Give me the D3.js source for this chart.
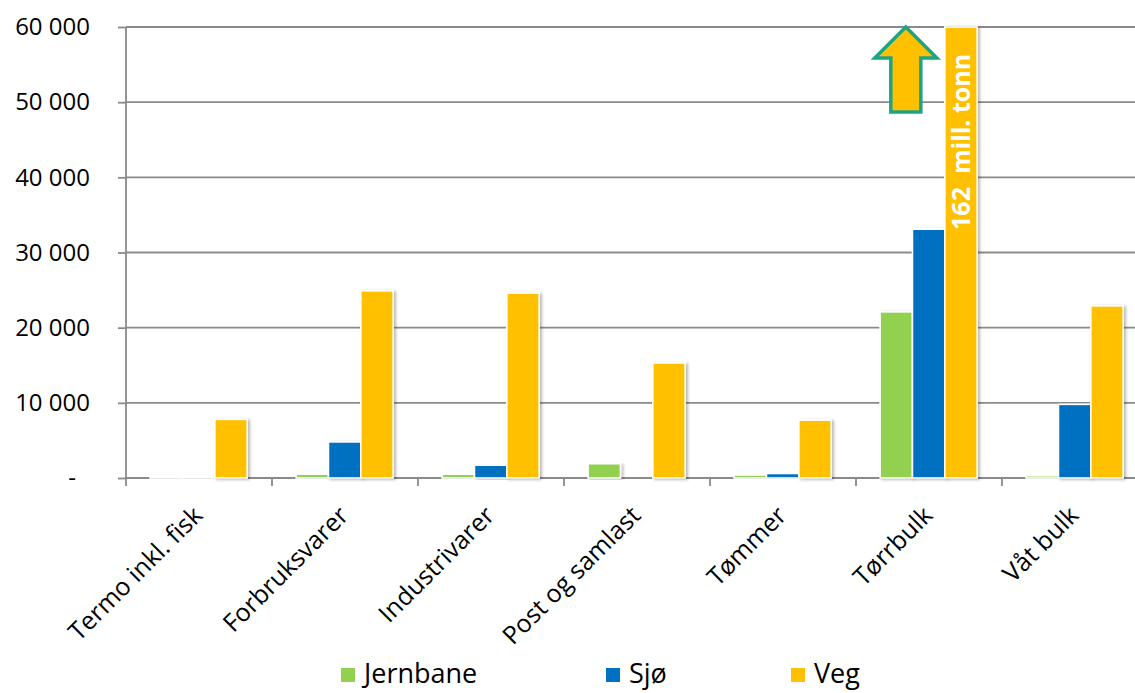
<!DOCTYPE html>
<html>
<head>
<meta charset="utf-8">
<script src="https://cdn.jsdelivr.net/npm/d3@7/dist/d3.min.js"></script>
<style>
  html, body { margin: 0; padding: 0; background: #fff; }
  svg { display: block; font-family: "Open Sans", "Noto Sans", sans-serif; }
</style>
</head>
<body>
<svg id="chart" width="1135" height="693"></svg>
<script>
// Godsmengder per varegruppe og transportmiddel (1000 tonn)
const categories = ["Termo inkl. fisk", "Forbruksvarer", "Industrivarer", "Post og samlast", "Tømmer", "Tørrbulk", "Våt bulk"];
const seriesNames = ["Jernbane", "Sjø", "Veg"];
const jernbane = [60, 500, 500, 1900, 400, 22100, 300];
const sjo      = [120, 4800, 1700, 0, 600, 33100, 9800];
const veg      = [7800, 24900, 24600, 15300, 7700, 162000, 22900];
const yTicks = [0, 10000, 20000, 30000, 40000, 50000, 60000];
const colors = ["#92d050", "#0070c0", "#ffc000"];
const bigLabel = "162  mill. tonn";

const values = [jernbane, sjo, veg];

const svg = d3.select("#chart");
const plotLeft = 126, plotTop = 27, plotBottom = 478, step = 146;

const x = d3.scaleBand().domain(categories).range([plotLeft, plotLeft + step * categories.length]).padding(0);
const xInner = d3.scaleBand().domain(seriesNames)
  .range([x.bandwidth() * 0.165, x.bandwidth() * 0.83]).padding(0);
const y = d3.scaleLinear().domain([0, 60000]).range([plotBottom, plotTop]).clamp(true);

const defs = svg.append("defs");
const f = defs.append("filter").attr("id", "shadow").attr("x", "-20%").attr("y", "-5%").attr("width", "150%").attr("height", "115%");
f.append("feDropShadow").attr("dx", 2).attr("dy", 1).attr("stdDeviation", 1.6)
  .attr("flood-color", "#000").attr("flood-opacity", 0.28);

const grey = "#8a8a8a";

// horizontal gridlines
svg.append("g").selectAll("line").data(yTicks.filter(d => d > 0)).join("line")
  .attr("x1", plotLeft).attr("x2", 1135)
  .attr("y1", d => y(d)).attr("y2", d => y(d))
  .attr("stroke", grey).attr("stroke-width", 1.8);

// y axis
const yAxis = d3.axisLeft(y).tickValues(yTicks).tickSize(8).tickPadding(0)
  .tickFormat(d => d === 0 ? "-" : d3.format(",")(d).replace(/,/g, " "));
const gy = svg.append("g").attr("transform", `translate(${plotLeft},0)`).call(yAxis);
gy.select(".domain").remove();
gy.selectAll(".tick line").attr("stroke", grey).attr("stroke-width", 1.8);
gy.selectAll(".tick text")
  .attr("x", d => d === 0 ? -50 : -36)
  .attr("fill", "#000").attr("font-size", 24)
  .attr("font-family", "'Open Sans', sans-serif");
svg.append("line").attr("x1", plotLeft).attr("x2", plotLeft).attr("y1", plotTop).attr("y2", plotBottom + 8)
  .attr("stroke", grey).attr("stroke-width", 1.8);

// x axis baseline and category ticks
svg.append("line").attr("x1", plotLeft).attr("x2", 1135).attr("y1", plotBottom).attr("y2", plotBottom)
  .attr("stroke", grey).attr("stroke-width", 1.8);
svg.append("g").selectAll("line").data(categories.slice(1)).join("line")
  .attr("x1", d => x(d)).attr("x2", d => x(d))
  .attr("y1", plotBottom).attr("y2", plotBottom + 8)
  .attr("stroke", grey).attr("stroke-width", 1.8);

// bars
const bars = [];
categories.forEach((c, i) => seriesNames.forEach((s, j) => bars.push({ c, s, j, v: values[j][i] })));
svg.append("g").selectAll("rect").data(bars).join("rect")
  .attr("x", d => x(d.c) + xInner(d.s))
  .attr("width", xInner.bandwidth())
  .attr("y", d => y(d.v))
  .attr("height", d => plotBottom - y(d.v))
  .attr("fill", d => colors[d.j])
  .attr("stroke", "#fff").attr("stroke-width", 1.6)
  .attr("filter", d => d.v > 0 ? "url(#shadow)" : null);

// category labels
svg.append("g").selectAll("text").data(categories).join("text")
  .attr("transform", d => `translate(${x(d) + x.bandwidth() / 2 + 5},${plotBottom + 39}) rotate(-45)`)
  .attr("text-anchor", "end")
  .attr("font-size", 25)
  .attr("fill", "#000")
  .text(d => d);

// value note on the clipped bar
const bigCat = categories[5];
const bigX = x(bigCat) + xInner("Veg") + xInner.bandwidth() / 2;
svg.append("text")
  .attr("transform", `translate(${bigX + 9},${y(33000)}) rotate(-90)`)
  .attr("fill", "#fff").attr("font-weight", 700).attr("font-size", 25)
  .style("white-space", "pre")
  .text(bigLabel);

// arrow marking that the bar continues above the axis
const ax = x(bigCat) + xInner("Veg") - 39;
const at = y(60000);
const arrow = d3.path();
arrow.moveTo(ax, at);
arrow.lineTo(ax + 31, at + 31);
arrow.lineTo(ax + 15, at + 31);
arrow.lineTo(ax + 15, at + 85);
arrow.lineTo(ax - 15, at + 85);
arrow.lineTo(ax - 15, at + 31);
arrow.lineTo(ax - 31, at + 31);
arrow.closePath();
svg.append("path").attr("d", arrow.toString())
  .attr("fill", "#ffc000").attr("stroke", "#1fa385").attr("stroke-width", 3.5)
  .attr("stroke-linejoin", "miter");

// legend
const legendX = [341, 606, 791];
const lg = svg.append("g");
seriesNames.forEach((s, j) => {
  lg.append("rect").attr("x", legendX[j]).attr("y", 668).attr("width", 14).attr("height", 14)
    .attr("fill", colors[j]);
  lg.append("text").attr("x", legendX[j] + 23).attr("y", 683)
    .attr("font-size", 27).attr("fill", "#000").text(s);
});
</script>
</body>
</html>
